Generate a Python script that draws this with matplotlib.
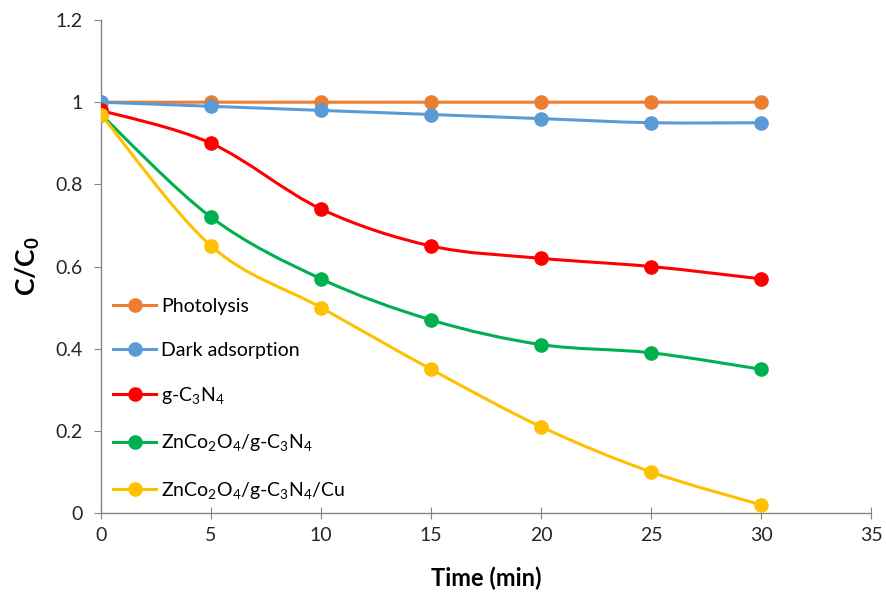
import matplotlib
matplotlib.use("Agg")
import matplotlib.pyplot as plt
from matplotlib.path import Path
from matplotlib.patches import PathPatch
import numpy as np

plt.rcParams['font.family'] = ['Lato', 'DejaVu Sans']
plt.rcParams['mathtext.fontset'] = 'custom'
plt.rcParams['mathtext.rm'] = 'Lato'
plt.rcParams['mathtext.it'] = 'Lato:italic'
plt.rcParams['mathtext.bf'] = 'Lato:bold'

time = [0, 5, 10, 15, 20, 25, 30]
photolysis = [1.0, 1.0, 1.0, 1.0, 1.0, 1.0, 1.0]
dark = [1.0, 0.99, 0.98, 0.97, 0.96, 0.95, 0.95]
gcn = [0.98, 0.90, 0.74, 0.65, 0.62, 0.60, 0.57]
zco_gcn = [0.97, 0.72, 0.57, 0.47, 0.41, 0.39, 0.35]
zco_gcn_cu = [0.97, 0.65, 0.50, 0.35, 0.21, 0.10, 0.02]

labels = ['Photolysis', 'Dark adsorption', 'g-C$_3$N$_4$',
          'ZnCo$_2$O$_4$/g-C$_3$N$_4$', 'ZnCo$_2$O$_4$/g-C$_3$N$_4$/Cu']
colors = ['#ED7D31', '#5B9BD5', '#FF0000', '#00B050', '#FFC000']
series = [photolysis, dark, gcn, zco_gcn, zco_gcn_cu]

fig = plt.figure(figsize=(8.87, 5.92), dpi=100)
ax = fig.add_axes([0.1139, 0.1334, 0.8681, 0.8328])


def smooth_path(x, y):
    x = np.asarray(x, float)
    y = np.asarray(y, float)
    n = len(x)
    verts = [(x[0], y[0])]
    codes = [Path.MOVETO]
    for i in range(n - 1):
        xp, yp = (x[i - 1], y[i - 1]) if i > 0 else (x[i], y[i])
        xn, yn = (x[i + 2], y[i + 2]) if i + 2 < n else (x[i + 1], y[i + 1])
        c1 = (x[i] + (x[i + 1] - xp) / 6, y[i] + (y[i + 1] - yp) / 6)
        c2 = (x[i + 1] - (xn - x[i]) / 6, y[i + 1] - (yn - y[i]) / 6)
        verts += [c1, c2, (x[i + 1], y[i + 1])]
        codes += [Path.CURVE4] * 3
    return Path(verts, codes)


lw = 2.2
ms = 9.5
for s, c, lab in zip(series, colors, labels):
    ax.add_patch(PathPatch(smooth_path(time, s), facecolor='none',
                           edgecolor=c, lw=lw, zorder=2))
    ax.plot(time, s, linestyle='none', marker='o', ms=ms, color=c, zorder=3)
    ax.plot([], [], '-', marker='o', ms=ms, lw=lw, color=c, label=lab)

ax.set_xlim(0, 35)
ax.set_ylim(0, 1.2)
ax.set_xticks(range(0, 36, 5))
ax.set_yticks([0, 0.2, 0.4, 0.6, 0.8, 1.0, 1.2])
ax.set_yticklabels(['0', '0.2', '0.4', '0.6', '0.8', '1', '1.2'])

for sp in ['top', 'right']:
    ax.spines[sp].set_visible(False)
for sp in ['left', 'bottom']:
    ax.spines[sp].set_color('#868686')
    ax.spines[sp].set_linewidth(1.0)
ax.tick_params(axis='x', direction='inout', length=8, colors='#868686',
               labelcolor='#262626', labelsize=14, pad=6)
ax.tick_params(axis='y', direction='out', length=5, colors='#868686',
               labelcolor='#262626', labelsize=14, pad=8)

ax.set_xlabel('Time (min)', fontsize=17, fontweight='bold', labelpad=16)
ax.set_ylabel(r'$\mathbf{C/C_0}$', fontsize=19, labelpad=10)

leg = ax.legend(loc='upper left', bbox_to_anchor=(0.016, 0.436),
                frameon=False, fontsize=14, labelspacing=1.36,
                handlelength=2.2, handletextpad=0.25, borderpad=0,
                borderaxespad=0)

fig.savefig('out.png', dpi=100)
